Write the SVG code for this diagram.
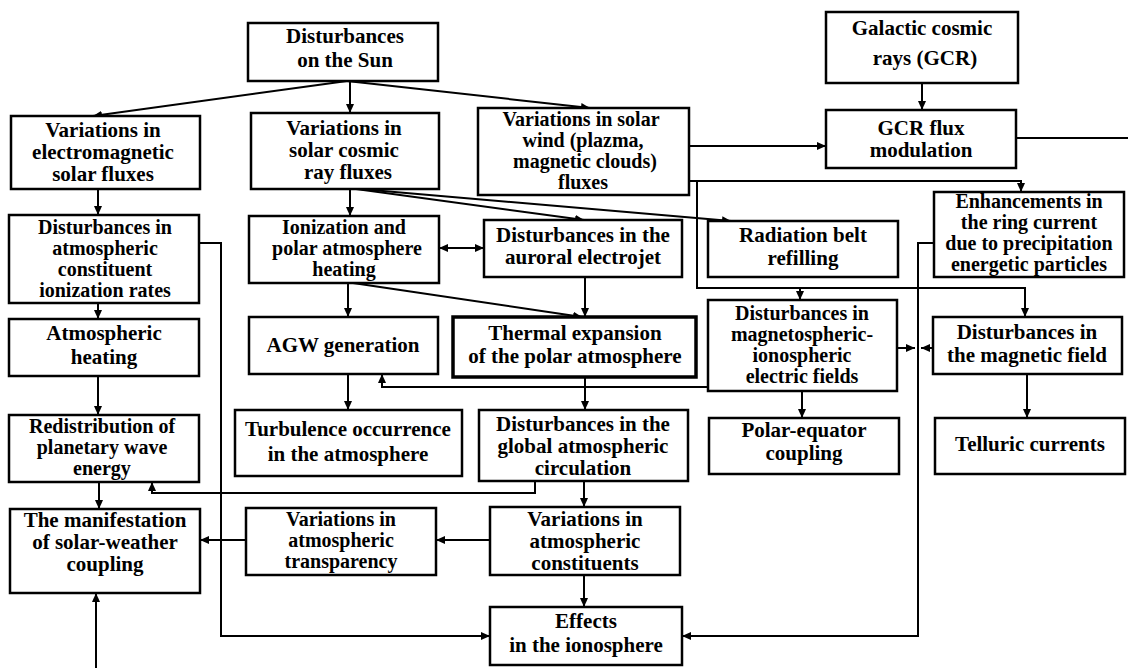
<svg xmlns="http://www.w3.org/2000/svg" width="1128" height="670" viewBox="0 0 1128 670">
<style>
.box{fill:#fff;stroke:#000;stroke-width:2.5}
.thick{stroke-width:3.5}
text{font-family:"Liberation Serif","Times New Roman",serif;font-weight:bold;font-size:21px;text-anchor:middle;fill:#000}
.s text{font-size:20px}
.c{fill:none;stroke:#000;stroke-width:2}
.ar{marker-end:url(#a)}
.ar2{marker-start:url(#a);marker-end:url(#a)}
</style>
<defs>
<marker id="a" viewBox="0 0 9 8" refX="9" refY="4" markerWidth="9" markerHeight="8" markerUnits="userSpaceOnUse" orient="auto-start-reverse"><path d="M0,0L9,4L0,8z" fill="#000"/></marker>
</defs>
<rect width="1128" height="670" fill="#fff"/>
<g id="connectors">
<line class="c ar" x1="347" y1="81" x2="93" y2="116"/>
<line class="c ar" x1="350" y1="81" x2="350" y2="113"/>
<line class="c ar" x1="347" y1="81" x2="590" y2="108"/>
<line class="c ar" x1="922" y1="83" x2="922" y2="110"/>
<line class="c ar" x1="689" y1="146" x2="826" y2="146"/>
<line class="c" x1="1016" y1="138" x2="1128" y2="138"/>
<polyline class="c ar" points="689,181 1021,181 1021,192"/>
<polyline class="c ar" points="697,181 697,288 1025,288 1025,317"/>
<line class="c ar" x1="800" y1="288" x2="800" y2="300"/>
<line class="c ar" x1="98" y1="189" x2="98" y2="215"/>
<line class="c ar" x1="350" y1="189" x2="350" y2="216"/>
<line class="c ar" x1="356" y1="189" x2="584" y2="220"/>
<line class="c ar" x1="360" y1="189" x2="731" y2="221"/>
<line class="c ar2" x1="439" y1="248" x2="484" y2="248"/>
<line class="c ar" x1="348" y1="283" x2="348" y2="317"/>
<line class="c ar" x1="353" y1="283" x2="582" y2="317"/>
<line class="c ar" x1="585" y1="277" x2="585" y2="317"/>
<polyline class="c ar" points="708,387 382,387 382,374"/>
<line class="c ar" x1="585" y1="377" x2="585" y2="410"/>
<line class="c ar" x1="348" y1="374" x2="348" y2="410"/>
<line class="c ar" x1="98" y1="303" x2="98" y2="319"/>
<line class="c ar" x1="98" y1="376" x2="98" y2="415"/>
<line class="c ar" x1="99" y1="482" x2="99" y2="509"/>
<polyline class="c ar" points="535,481 535,493 152,493 152,482"/>
<line class="c ar" x1="584" y1="481" x2="584" y2="507"/>
<line class="c ar" x1="584" y1="575" x2="584" y2="607"/>
<line class="c ar" x1="490" y1="540" x2="436" y2="540"/>
<line class="c ar" x1="246" y1="540" x2="200" y2="540"/>
<line class="c ar" x1="96" y1="668" x2="96" y2="593"/>
<polyline class="c ar" points="199,243 221,243 221,636 490,636"/>
<polyline class="c ar" points="934,243 918,243 918,636 682,636"/>
<line class="c ar" x1="897" y1="348" x2="915" y2="348"/>
<line class="c ar" x1="933" y1="348" x2="921" y2="348"/>
<line class="c ar" x1="802" y1="391" x2="802" y2="418"/>
<line class="c ar" x1="1027" y1="374" x2="1027" y2="418"/>
</g>
<g id="n-sun"><rect class="box" x="248" y="23" width="190" height="58"/><text x="345" y="43">Disturbances</text><text x="345" y="67">on the Sun</text></g>
<g id="n-gcr"><rect class="box" x="826" y="12" width="192" height="71"/><text x="922" y="35">Galactic cosmic</text><text x="925" y="65">rays (GCR)</text></g>
<g id="n-em"><rect class="box" x="11" y="116" width="189" height="73"/><text x="103" y="137">Variations in</text><text x="103" y="159">electromagnetic</text><text x="103" y="181">solar fluxes</text></g>
<g id="n-scr"><rect class="box" x="251" y="113" width="188" height="76"/><text x="344" y="135">Variations in</text><text x="344" y="157">solar cosmic</text><text x="348" y="179">ray fluxes</text></g>
<g id="n-sw" class="s"><rect class="box" x="478" y="108" width="211" height="87"/><text x="581" y="126">Variations in solar</text><text x="583" y="147">wind (plazma,</text><text x="585" y="168">magnetic clouds)</text><text x="583" y="189">fluxes</text></g>
<g id="n-gcrmod"><rect class="box" x="826" y="110" width="190" height="58"/><text x="921" y="135">GCR flux</text><text x="921" y="157">modulation</text></g>
<g id="n-ionrates" class="s"><rect class="box" x="9" y="215" width="190" height="88"/><text x="105" y="234">Disturbances in</text><text x="105" y="255">atmospheric</text><text x="105" y="276">constituent</text><text x="105" y="297">ionization rates</text></g>
<g id="n-ionpolar" class="s"><rect class="box" x="249" y="216" width="190" height="67"/><text x="344" y="234">Ionization and</text><text x="347" y="255">polar atmosphere</text><text x="344" y="276">heating</text></g>
<g id="n-auroral"><rect class="box" x="484" y="220" width="198" height="57"/><text x="583" y="242">Disturbances in the</text><text x="583" y="264">auroral electrojet</text></g>
<g id="n-radiation"><rect class="box" x="708" y="221" width="190" height="56"/><text x="803" y="242">Radiation belt</text><text x="803" y="265">refilling</text></g>
<g id="n-enh" class="s"><rect class="box" x="934" y="192" width="190" height="85"/><text x="1029" y="208">Enhancements in</text><text x="1029" y="229">the ring current</text><text x="1029" y="250">due to precipitation</text><text x="1029" y="271">energetic particles</text></g>
<g id="n-heating"><rect class="box" x="9" y="319" width="190" height="57"/><text x="104" y="340">Atmospheric</text><text x="104" y="364">heating</text></g>
<g id="n-agw"><rect class="box" x="249" y="317" width="189" height="57"/><text x="343" y="352">AGW generation</text></g>
<g id="n-thermal"><rect class="box thick" x="453" y="317" width="243" height="60"/><text x="575" y="340">Thermal expansion</text><text x="575" y="363">of the polar atmosphere</text></g>
<g id="n-msph" class="s"><rect class="box" x="708" y="300" width="189" height="91"/><text x="802" y="320">Disturbances in</text><text x="802" y="341">magnetospheric-</text><text x="802" y="362">ionospheric</text><text x="802" y="383">electric fields</text></g>
<g id="n-magfield"><rect class="box" x="933" y="317" width="189" height="57"/><text x="1027" y="339">Disturbances in</text><text x="1027" y="362">the magnetic field</text></g>
<g id="n-redist" class="s"><rect class="box" x="9" y="415" width="190" height="67"/><text x="102" y="433">Redistribution of</text><text x="102" y="454">planetary wave</text><text x="102" y="475">energy</text></g>
<g id="n-turb"><rect class="box" x="235" y="410" width="227" height="66"/><text x="348" y="436">Turbulence occurrence</text><text x="348" y="461">in the atmosphere</text></g>
<g id="n-global"><rect class="box" x="479" y="410" width="209" height="71"/><text x="583" y="431">Disturbances in the</text><text x="583" y="453">global atmospheric</text><text x="583" y="475">circulation</text></g>
<g id="n-polareq"><rect class="box" x="709" y="418" width="190" height="56"/><text x="804" y="437">Polar-equator</text><text x="804" y="460">coupling</text></g>
<g id="n-telluric"><rect class="box" x="935" y="418" width="190" height="56"/><text x="1030" y="451">Telluric currents</text></g>
<g id="n-manif"><rect class="box" x="10" y="509" width="190" height="84"/><text x="105" y="527">The manifestation</text><text x="105" y="549">of solar-weather</text><text x="105" y="571">coupling</text></g>
<g id="n-transp" class="s"><rect class="box" x="246" y="508" width="190" height="67"/><text x="341" y="526">Variations in</text><text x="341" y="547">atmospheric</text><text x="341" y="568">transparency</text></g>
<g id="n-constit"><rect class="box" x="490" y="507" width="190" height="68"/><text x="585" y="526">Variations in</text><text x="585" y="548">atmospheric</text><text x="585" y="570">constituents</text></g>
<g id="n-effects"><rect class="box" x="490" y="607" width="192" height="58"/><text x="586" y="628">Effects</text><text x="586" y="652">in the ionosphere</text></g>
</svg>
